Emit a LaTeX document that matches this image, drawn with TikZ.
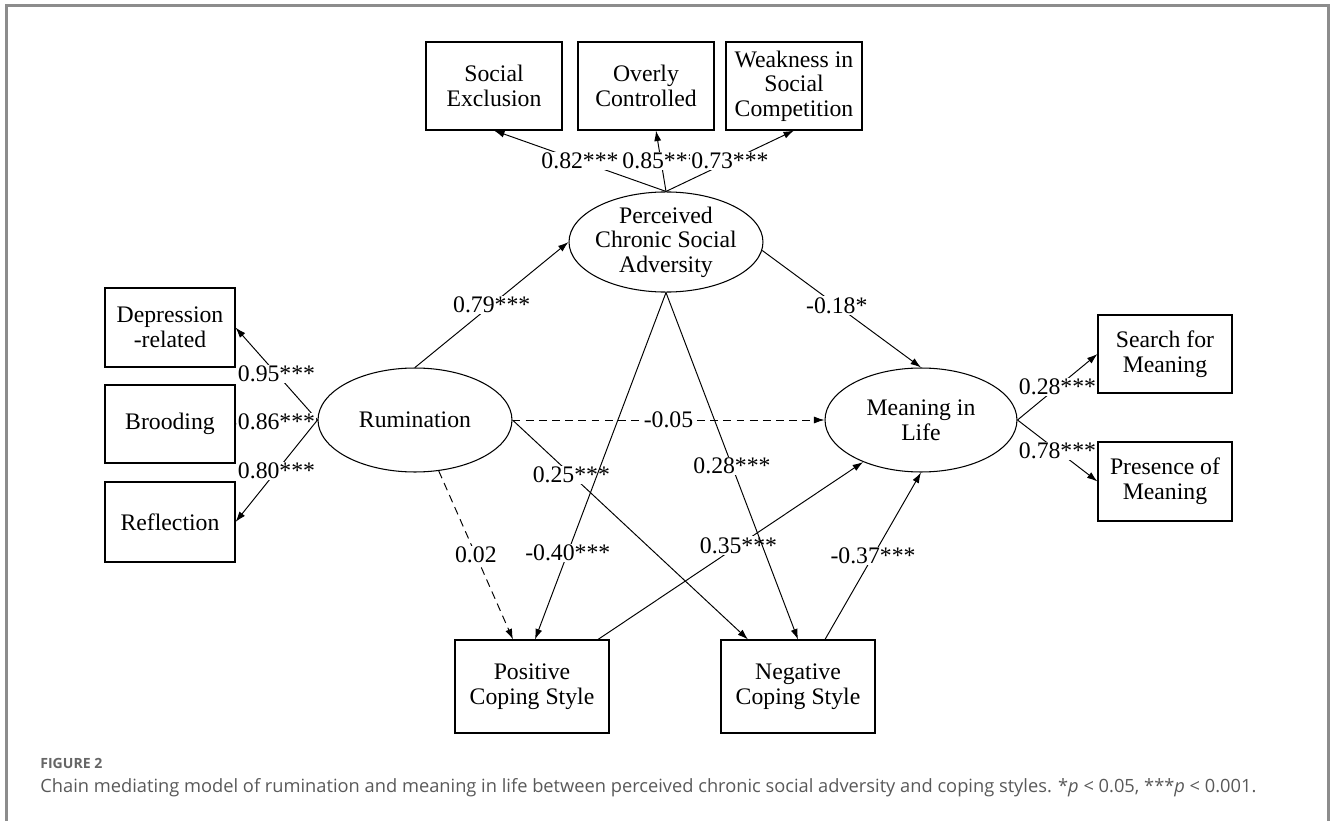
\documentclass[tikz,border=0pt]{standalone}
\usepackage{fontspec}
\setmainfont{Liberation Serif}
\newfontfamily\capfont{Open Sans}
\usetikzlibrary{calc,arrows.meta,shapes.geometric}

\begin{document}
\begin{tikzpicture}[x=0.02cm,y=-0.02cm,
  font=\fontsize{13.5}{14}\selectfont,
  obs/.style={draw,rectangle,align=center,inner sep=0pt,line width=0.6pt},
  lat/.style={draw,ellipse,align=center,inner xsep=-2pt,inner ysep=0pt,line width=0.6pt},
  arr/.style={-{Latex[length=6pt,width=4pt]},line width=0.55pt},
  dsh/.style={dash pattern=on 4.5pt off 3pt},
  coef/.style={fill=white,inner sep=0.6pt}]
\useasboundingbox (0,0) rectangle (1330,821);
\draw[black!45,line width=1.2pt] (6.5,821)--(6.5,5.5)--(1328.5,5.5)--(1328.5,821);

% indicators of adversity
\node[obs,minimum width=2.72cm,minimum height=1.76cm] (socex) at (494,86) {Social\\Exclusion};
\node[obs,minimum width=2.72cm,minimum height=1.76cm] (overly) at (646,86) {Overly\\Controlled};
\node[obs,minimum width=2.72cm,minimum height=1.76cm] (weak) at (794,86) {Weakness in\\Social\\Competition};

% latent variables
\node[lat,minimum width=3.88cm,minimum height=2cm] (pcsa) at (666,242) {Perceived\\Chronic Social\\Adversity};
\node[lat,minimum width=3.88cm,minimum height=2.08cm] (rum) at (415,420) {Rumination};
\node[lat,minimum width=3.84cm,minimum height=2.08cm] (mil) at (921,420) {Meaning in\\Life};

% indicators of rumination
\node[obs,minimum width=2.6cm,minimum height=1.58cm] (depr) at (170,327.5) {Depression\\-related};
\node[obs,minimum width=2.6cm,minimum height=1.56cm] (brood) at (170,424) {Brooding};
\node[obs,minimum width=2.6cm,minimum height=1.6cm] (refl) at (170,522) {Reflection};

% indicators of meaning
\node[obs,minimum width=2.68cm,minimum height=1.56cm] (srch) at (1165,354) {Search for\\Meaning};
\node[obs,minimum width=2.68cm,minimum height=1.58cm] (pres) at (1165,481.5) {Presence of\\Meaning};

% coping styles
\node[obs,minimum width=3.08cm,minimum height=1.86cm] (pcs) at (532,686.5) {Positive\\Coping Style};
\node[obs,minimum width=3.08cm,minimum height=1.86cm] (ncs) at (798,686.5) {Negative\\Coping Style};

% loadings
\draw[arr] (pcsa.north) -- node[coef]{0.82***} (socex.south);
\draw[arr] (pcsa.north) -- node[coef]{0.85***} ($(overly.south)+(10,0)$);
\draw[arr] (pcsa.north) -- node[coef]{0.73***} (weak.south);
\draw[arr] (rum.west) -- node[coef]{0.95***} (depr.east);
\draw[arr] (rum.west) -- node[coef]{0.86***} (brood.east);
\draw[arr] (rum.west) -- node[coef]{0.80***} (refl.east);
\draw[arr] (mil.east) -- node[coef]{0.28***} (srch.west);
\draw[arr] (mil.east) -- node[coef]{0.78***} (pres.west);

% structural paths
\draw[arr] (rum.north) -- node[coef]{0.79***} (pcsa.west);
\draw[arr] (pcsa.-5) -- node[coef,pos=0.47]{-0.18*} (mil.north);
\draw[arr,dsh] (rum.east) -- node[coef]{-0.05} (mil.west);
\draw[arr,dsh] (rum.-65) -- node[coef]{0.02} ($(pcs.north)+(-19,0)$);
\draw[arr] (rum.east) -- node[coef,pos=0.25]{0.25***} ($(ncs.north)+(-50,0)$);
\draw[arr] (pcsa.south) -- node[coef,pos=0.75]{-0.40***} ($(pcs.north)+(3,0)$);
\draw[arr] ($(pcs.north)+(66,0)$) -- node[coef,pos=0.53]{0.35***} (mil.216);
\draw[arr] (pcsa.south) -- node[coef]{0.28***} (ncs.north);
\draw[arr] ($(ncs.north)+(27,0)$) -- node[coef]{-0.37***} (mil.south);

% caption
\node[anchor=base west,inner sep=0pt,text=black!60,font=\capfont\bfseries\fontsize{8}{9}\selectfont] (fig) at (40,768) {FIGURE 2};
\node[anchor=base west,inner sep=0pt,text=black!65,font=\capfont\fontsize{10.4}{12}\selectfont] (cap) at (40,792) {Chain mediating model of rumination and meaning in life between perceived chronic social adversity and coping styles. *\textit{p} < 0.05, ***\textit{p} < 0.001.};
\end{tikzpicture}
\end{document}
